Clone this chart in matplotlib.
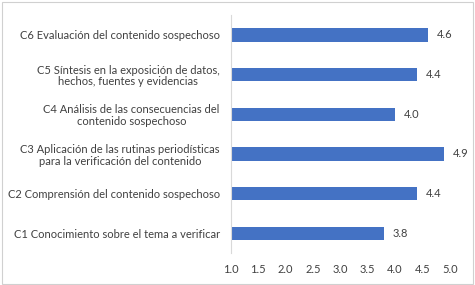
import matplotlib.pyplot as plt
from matplotlib.patches import Rectangle

# Datos
categorias = ['C1 Conocimiento sobre el tema a verificar',
              'C2 Comprensión del contenido sospechoso',
              'C3 Aplicación de las rutinas periodísticas\npara la verificación del contenido',
              'C4 Análisis de las consecuencias del\ncontenido sospechoso',
              'C5 Síntesis en la exposición de datos,\nhechos, fuentes y evidencias',
              'C6 Evaluación del contenido sospechoso']
valores = [3.8, 4.4, 4.9, 4.0, 4.4, 4.6]
ticks_x = [1.0, 1.5, 2.0, 2.5, 3.0, 3.5, 4.0, 4.5, 5.0]

plt.rcParams['font.family'] = ['Lato', 'DejaVu Sans']
gris = '#404040'

fig = plt.figure(figsize=(4.75, 2.85), dpi=100)
ax = fig.add_axes([0.486, 0.112, 0.461, 0.835])

pos = range(len(categorias))
ax.barh(pos, [v - 1.0 for v in valores], left=1.0, height=0.34, color='#4472C4')
for p, v in zip(pos, valores):
    ax.text(v + 0.16, p, '%.1f' % v, va='center', ha='left', fontsize=8, color=gris)

ax.set_xlim(1.0, 5.0)
ax.set_ylim(-0.5, 5.5)
ax.set_xticks(ticks_x)
ax.set_xticklabels(['%.1f' % t for t in ticks_x])
ax.set_yticks(list(pos))
ax.set_yticklabels(categorias, fontsize=8, color=gris, ha='right',
                   multialignment='center', linespacing=1.1)
ax.tick_params(axis='x', length=0, labelsize=8, labelcolor=gris, pad=8)
ax.tick_params(axis='y', length=0, pad=8)

for s in ['top', 'right', 'bottom']:
    ax.spines[s].set_visible(False)
ax.spines['left'].set_color('#D9D9D9')
ax.spines['left'].set_linewidth(0.8)

# marco de la imagen
fig.patches.append(Rectangle((0.004, 0.004), 0.992, 0.99, transform=fig.transFigure,
                             fill=False, edgecolor='#D0D0D0', linewidth=0.8))

fig.savefig('out.png', dpi=100)
